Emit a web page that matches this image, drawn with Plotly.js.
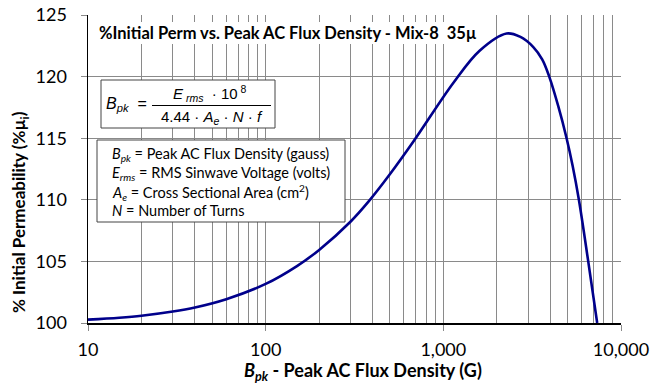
<!DOCTYPE html>
<html>
<head>
<meta charset="utf-8">
<script src="https://cdn.plot.ly/plotly-3.0.1.min.js"></script>
<style>html,body{margin:0;padding:0;background:#fff;}#chart{width:651px;height:385px;}</style>
</head>
<body>
<div id="chart"></div>
<script>
// Data
const fluxDensity = [10, 15, 20, 30, 40, 60, 100, 150, 200, 300, 380, 500, 680, 1140, 1600, 2270, 2700, 3210, 3600, 3945, 4435, 4940, 5345, 5794, 6540, 7345];
const permeability = [100.27, 100.43, 100.59, 100.93, 101.26, 101.93, 103.17, 104.62, 105.93, 108.22, 109.87, 112.07, 114.75, 119.5, 122.1, 123.5, 123.24, 122.4, 121.4, 120.0, 117.6, 115.0, 112.75, 110.0, 105.0, 100.0];

const xTickVals = [10, 100, 1000, 10000];
const xTickText = ['10', '100', '1,000', '10,000'];
const xMinorVals = [20,30,40,50,60,70,80,90,200,300,400,500,600,700,800,900,2000,3000,4000,5000,6000,7000,8000,9000];
const yTickVals = [100, 105, 110, 115, 120, 125];
const yGridVals = [105, 110, 115, 120];

const chartTitle = '%Initial Perm vs. Peak AC Flux Density - Mix-8\u00a0\u00a035\u00b5';
const defLines = [
  '<i>B<sub>pk</sub></i> = Peak AC Flux Density (gauss)',
  '<i>E<sub>rms</sub></i> = RMS Sinwave Voltage (volts)',
  '<i>A<sub>e</sub></i> = Cross Sectional Area (cm<sup>2</sup>)',
  '<i>N</i> = Number of Turns'
];

const L = 88, R = 621, T = 15, B = 323;
const px = v => (v - L) / (R - L);
const py = v => (B - v) / (B - T);

const font = 'Lato, "Open Sans", sans-serif';
const eqFont = '"Liberation Sans", Arial, sans-serif';

const trace = {
  x: fluxDensity, y: permeability, type: 'scatter', mode: 'lines',
  line: {color: '#00008B', width: 2.6, shape: 'spline', smoothing: 1},
  hoverinfo: 'skip', showlegend: false
};

const annotations = [
  {text: '<b>' + chartTitle + '</b>', xref: 'paper', yref: 'paper', x: px(97), y: py(33),
   xanchor: 'left', yanchor: 'middle', showarrow: false,
   font: {family: font, size: 16.5, color: '#000'}},
  {text: '<i>B</i><sub><i>pk</i></sub>  =', xref: 'paper', yref: 'paper', x: px(104), y: py(104),
   xanchor: 'left', yanchor: 'middle', showarrow: false, font: {family: eqFont, size: 16, color: '#000'}},
  {text: '<i>E</i><sub> <i>rms</i></sub>  · 10<sup> 8</sup>', xref: 'paper', yref: 'paper', x: px(210), y: py(93),
   xanchor: 'center', yanchor: 'middle', showarrow: false, font: {family: eqFont, size: 15, color: '#000'}},
  {text: '4.44 · <i>A</i><sub><i>e</i></sub> · <i>N</i> · <i>f</i>', xref: 'paper', yref: 'paper', x: px(212), y: py(117),
   xanchor: 'center', yanchor: 'middle', showarrow: false, font: {family: eqFont, size: 15, color: '#000'}},
  {text: '<b>% Initial Permeability (%µ<sub>i</sub>)</b>', xref: 'paper', yref: 'paper', x: px(20), y: py(212),
   xanchor: 'center', yanchor: 'middle', textangle: -90, showarrow: false, font: {family: font, size: 17, color: '#000'}},
  {text: '<b><i>B<sub>pk</sub></i> - Peak AC Flux Density (G)</b>', xref: 'paper', yref: 'paper', x: px(363), y: py(371),
   xanchor: 'center', yanchor: 'middle', showarrow: false, font: {family: font, size: 18, color: '#000'}}
];
const defY = [154, 173, 192, 210];
defLines.forEach((t, i) => annotations.push({
  text: t, xref: 'paper', yref: 'paper', x: px(110), y: py(defY[i]), xanchor: 'left', yanchor: 'middle',
  showarrow: false, font: {family: font, size: 14.5, color: '#000'}
}));

const shapes = [
  {type: 'rect', xref: 'paper', yref: 'paper', x0: px(90), x1: px(480), y0: py(44), y1: py(22),
   line: {width: 0}, fillcolor: '#fff', layer: 'above'},
  {type: 'rect', xref: 'paper', yref: 'paper', x0: px(101), x1: px(275), y0: py(128), y1: py(80),
   line: {color: '#444', width: 1}, fillcolor: '#fff', layer: 'above'},
  {type: 'line', xref: 'paper', yref: 'paper', x0: px(152), x1: px(271), y0: py(105.5), y1: py(105.5),
   line: {color: '#000', width: 1}, layer: 'above'},
  {type: 'rect', xref: 'paper', yref: 'paper', x0: px(97), x1: px(345), y0: py(222), y1: py(140),
   line: {color: '#444', width: 1}, fillcolor: '#fff', layer: 'above'}
];

const layout = {
  width: 651, height: 385,
  margin: {l: L, r: 651 - R, t: T, b: 385 - B, pad: 0},
  paper_bgcolor: '#fff', plot_bgcolor: '#fff',
  font: {family: font, size: 18, color: '#000'},
  showlegend: false,
  xaxis: {
    type: 'log', range: [1, 4], tickmode: 'array', tickvals: xTickVals, ticktext: xTickText,
    showgrid: true, gridcolor: '#8a8a8a', gridwidth: 1,
    minor: {tickmode: 'array', tickvals: xMinorVals, showgrid: true, gridcolor: '#8a8a8a', gridwidth: 1, ticks: ''},
    ticks: 'outside', ticklen: 6, tickcolor: '#8a8a8a', ticklabelstandoff: 4,
    showline: true, linecolor: '#000', linewidth: 1.5, zeroline: false,
    tickfont: {family: font, size: 18, color: '#000'}
  },
  yaxis: {
    range: [100, 125], tickmode: 'array', tickvals: yTickVals,
    showgrid: false,
    minor: {tickmode: 'array', tickvals: yGridVals, showgrid: true, gridcolor: '#8a8a8a', gridwidth: 1, ticks: ''},
    ticks: 'outside', ticklen: 6, tickcolor: '#8a8a8a', ticklabelstandoff: 10,
    showline: true, linecolor: '#000', linewidth: 1.5, zeroline: false,
    tickfont: {family: font, size: 18, color: '#000'}
  },
  annotations: annotations,
  shapes: shapes
};

Plotly.newPlot('chart', [trace], layout, {staticPlot: true, displayModeBar: false});
</script>
</body>
</html>
